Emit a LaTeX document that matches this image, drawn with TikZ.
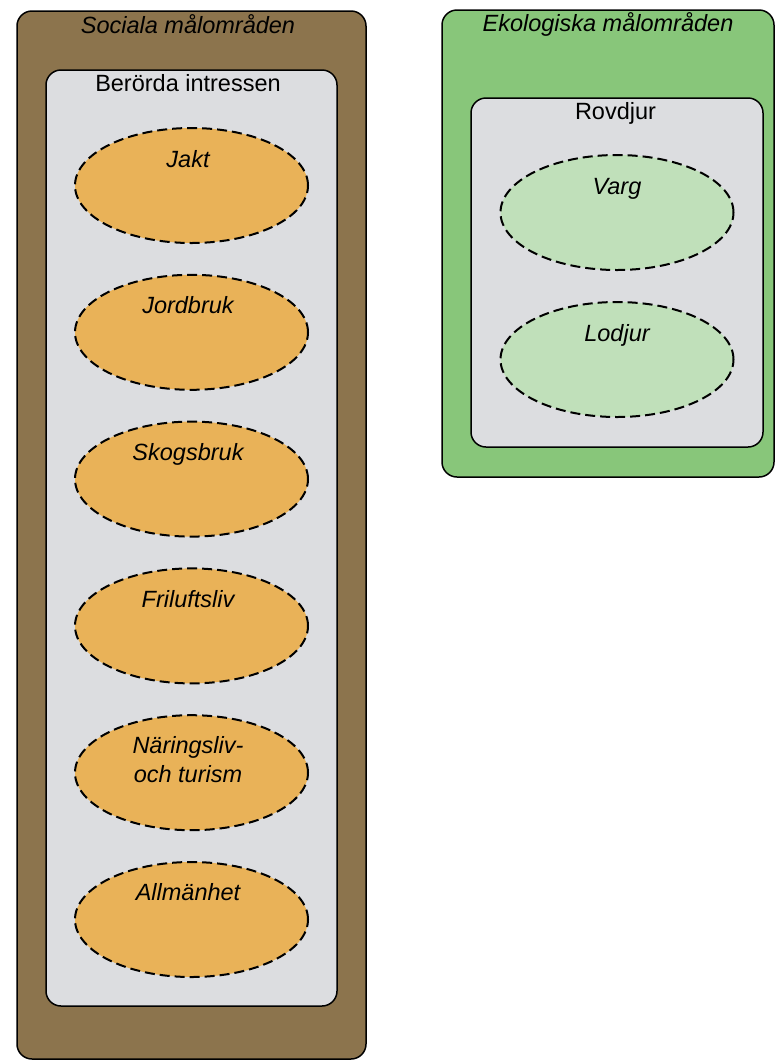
\documentclass[tikz,border=0pt]{standalone}
\usepackage{fontspec}
\setmainfont{Liberation Sans}
\usetikzlibrary{shapes.geometric}
\definecolor{socbrown}{RGB}{140,116,77}
\definecolor{ekogreen}{RGB}{136,198,122}
\definecolor{boxgrey}{RGB}{220,221,224}
\definecolor{intorange}{RGB}{233,178,88}
\definecolor{artgreen}{RGB}{192,224,186}
\begin{document}
\begin{tikzpicture}[x=1pt,y=-1pt,
	box/.style={draw,line width=1.5pt,rounded corners=15pt,inner sep=0pt},
	area/.style={ellipse,draw,line width=2pt,dash pattern=on 10pt off 5pt,
		inner sep=0pt,minimum width=233pt,minimum height=115pt},
	title/.style={anchor=base,inner sep=0pt,font=\fontsize{23.5}{29}\selectfont},
	tag/.style={anchor=base,inner sep=0pt,align=center,
		font=\fontsize{23.5}{29}\selectfont\itshape}]
			\useasboundingbox (0,0) rectangle (775,1061);
			
			\node[box,fill=socbrown,minimum width=349pt,minimum height=1048pt] (social) at (191.5,535) {};
			\node[box,fill=boxgrey,minimum width=291pt,minimum height=936pt] (berorda) at (191.5,538) {};
			\node[box,fill=ekogreen,minimum width=332pt,minimum height=467pt] (eko) at (608,243.5) {};
			\node[box,fill=boxgrey,minimum width=292pt,minimum height=349pt] (rovdjur) at (617,272.5) {};
			
			\begin{scope}[every node/.append style={fill=intorange}]
			\node[area] (jakt) at (191.5,185.5) {};
			\node[area] (jordbruk) at (191.5,332.3) {};
			\node[area] (skogsbruk) at (191.5,479.1) {};
			\node[area] (friluftsliv) at (191.5,625.9) {};
			\node[area] (naringsliv) at (191.5,772.7) {};
			\node[area] (allmanhet) at (191.5,919.5) {};
			\end{scope}
			
			\begin{scope}[every node/.append style={fill=artgreen}]
			\node[area] (varg) at (617,212.5) {};
			\node[area] (lodjur) at (617,359.5) {};
			\end{scope}
			
			\begin{scope}[every node/.append style={xshift=-3.5pt}]
			\node[title,font=\fontsize{23.5}{29}\selectfont\itshape] (social-t) at ([yshift=-23pt]social.north) {Sociala målområden};
			\node[title] (berorda-t) at ([yshift=-22pt]berorda.north) {Berörda intressen};
			\node[tag] (jakt-t) at ([yshift=18.5pt]jakt.center) {Jakt};
			\node[tag] (jordbruk-t) at ([yshift=18.5pt]jordbruk.center) {Jordbruk};
			\node[tag] (skogsbruk-t) at ([yshift=18.5pt]skogsbruk.center) {Skogsbruk};
			\node[tag] (friluftsliv-t) at ([yshift=18.5pt]friluftsliv.center) {Friluftsliv};
			\node[tag] (naringsliv-t) at ([yshift=-10pt]naringsliv.center) {Näringsliv-\\och turism};
			\node[tag] (allmanhet-t) at ([yshift=19pt]allmanhet.center) {Allmänhet};
			\end{scope}
			
			\node[title,font=\fontsize{23.5}{29}\selectfont\itshape] (eko-t) at ([yshift=-22.5pt]eko.north) {Ekologiska målområden};
			\node[title] (rovdjur-t) at ([yshift=-22pt,xshift=-1.5pt]rovdjur.north) {Rovdjur};
			\node[tag] (varg-t) at ([yshift=18.5pt]varg.center) {Varg};
			\node[tag] (lodjur-t) at ([yshift=18.5pt]lodjur.center) {Lodjur};
			\end{tikzpicture}
\end{document}
